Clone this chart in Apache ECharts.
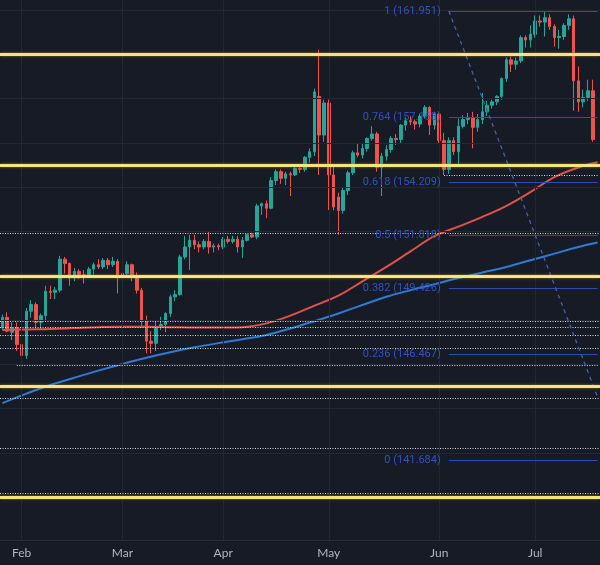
<!DOCTYPE html>
<html><head><meta charset="utf-8">
<script src="https://cdn.jsdelivr.net/npm/echarts@6/dist/echarts.min.js"></script>
<style>html,body{margin:0;padding:0;background:#171b26;}#c{width:600px;height:565px;}</style>
</head><body><div id="c"></div>
<script>
// ---- data (USD/JPY daily) ----
const opens = [147.65,148.12,147.45,147.65,146.90,146.40,148.40,148.70,147.90,148.20,149.30,149.25,149.35,150.75,150.55,149.90,150.20,150.05,150.00,150.30,150.50,150.40,150.70,150.50,150.65,149.95,150.10,150.50,150.00,149.35,147.95,147.05,146.95,147.70,147.80,148.30,149.05,149.15,150.85,151.30,151.60,151.40,151.30,151.55,151.30,151.35,151.30,151.65,151.55,151.65,151.30,151.60,151.85,151.75,153.15,153.25,153.05,154.30,154.70,154.40,154.60,154.55,154.85,154.80,155.35,155.60,158.10,156.35,157.80,154.55,153.55,152.95,153.85,154.65,155.55,155.45,155.75,156.20,156.40,154.90,155.40,155.70,156.20,156.15,156.80,157.00,156.95,156.85,157.20,157.60,156.80,157.30,156.10,154.80,156.10,155.60,156.75,157.05,157.15,156.70,157.05,157.40,157.70,157.85,158.10,158.90,159.75,159.55,159.70,160.75,160.65,160.90,161.50,161.45,161.65,161.25,160.75,160.80,161.30,161.60,158.80,157.85,158.05,158.35];
const highs = [148.25,148.35,147.90,147.90,147.05,148.55,148.90,148.80,148.30,149.55,149.55,149.50,150.90,150.85,150.60,150.35,150.30,150.25,150.40,150.60,150.75,150.80,150.80,150.85,150.75,150.60,150.65,150.55,150.15,149.45,148.20,147.50,147.95,148.15,148.35,149.15,149.35,150.95,151.80,151.85,151.85,151.55,151.65,151.97,151.45,151.45,151.75,151.80,151.80,151.80,151.75,151.90,151.95,153.25,153.30,153.40,154.45,154.80,154.80,154.70,154.70,154.90,154.90,155.40,155.75,158.45,160.20,157.95,157.95,155.00,153.75,154.00,154.75,155.65,155.95,155.95,156.25,156.75,156.50,155.55,155.90,156.30,156.40,156.85,157.15,157.20,157.05,157.30,157.70,157.65,157.40,157.40,156.45,156.25,156.25,157.10,157.25,157.35,157.40,157.30,158.25,157.90,157.95,158.15,158.95,159.85,159.90,159.85,160.85,160.85,161.30,161.75,161.75,161.951,161.80,161.35,161.10,161.40,161.80,161.75,159.45,158.40,158.85,158.85];
const lows = [147.55,147.45,147.10,146.60,145.90,146.25,148.10,147.65,147.60,147.95,148.95,148.95,149.25,150.10,149.55,149.75,149.85,149.65,149.90,150.05,150.30,150.30,150.30,150.40,149.20,149.75,150.00,149.75,149.20,147.65,146.50,146.50,146.60,147.55,147.45,148.15,148.85,149.10,150.75,150.26,151.20,151.05,151.20,151.00,151.05,151.15,151.20,151.45,151.45,151.05,150.80,151.55,151.70,151.65,152.75,152.60,153.00,154.10,154.15,154.10,153.60,154.50,154.65,154.70,155.10,155.40,154.55,156.05,152.97,152.95,151.86,152.80,153.65,154.55,155.35,155.30,155.60,156.10,154.70,153.60,155.20,155.55,155.90,156.00,156.55,156.80,156.60,156.70,157.10,156.35,156.60,155.95,154.55,154.60,155.45,155.00,156.65,156.85,155.75,156.50,156.85,157.20,157.55,157.70,157.95,158.75,159.20,159.30,159.60,160.30,160.30,160.75,161.25,160.80,161.10,160.35,160.25,160.65,161.10,157.45,157.40,157.60,157.90,156.05];
const closes = [148.12,147.50,147.65,146.90,146.40,148.40,148.70,147.90,148.20,149.30,149.25,149.35,150.75,150.55,149.90,150.20,150.05,150.00,150.30,150.50,150.40,150.70,150.50,150.65,149.95,150.10,150.50,150.00,149.35,147.95,147.05,146.95,147.70,147.80,148.30,149.05,149.15,150.85,151.30,151.60,151.40,151.30,151.55,151.30,151.35,151.30,151.65,151.55,151.65,151.30,151.60,151.85,151.75,153.15,153.25,153.05,154.30,154.70,154.40,154.60,154.55,154.85,154.80,155.35,155.60,158.30,156.35,157.80,154.55,153.10,152.95,153.85,154.65,155.55,155.45,155.75,156.20,156.40,154.90,155.40,155.70,156.20,156.15,156.80,157.00,156.95,156.85,157.20,157.60,156.80,157.30,156.10,154.80,156.10,155.60,156.75,157.05,157.15,156.70,157.05,157.40,157.70,157.85,158.10,158.90,159.75,159.55,159.70,160.75,160.65,160.90,161.50,161.45,161.65,161.25,160.75,160.80,161.30,161.60,158.80,157.85,158.05,158.35,156.15];

// moving averages read at every 5th bar
const maIndex = [0,5,10,15,20,25,30,35,40,45,50,55,60,65,70,75,80,85,90,95,100,105,110,115,120,124];
const maRed  = [147.55,147.58,147.60,147.64,147.68,147.70,147.70,147.68,147.66,147.66,147.68,147.85,148.20,148.65,149.10,149.75,150.40,151.10,151.79,152.22,152.66,153.16,153.78,154.45,154.89,155.12];
const maBlue = [144.25,144.68,145.07,145.40,145.72,146.02,146.30,146.55,146.77,146.96,147.13,147.33,147.62,147.95,148.30,148.68,149.05,149.35,149.62,149.90,150.15,150.40,150.70,151.00,151.30,151.50];

// drawn levels
const yellowLevels = [160, 155, 150, 145, 140];
const dottedLevels = [154.53, 151.93, 147.96, 147.69, 147.33, 146.74, 145.97, 144.48, 142.23, 140.20];
const dottedStart  = ['2024-06-04', null, null, null, null, null, '2024-01-31', null, null, null];
const fibRatios = ['1', '0.764', '0.618', '0.5', '0.382', '0.236', '0'];
const fibPrices = [161.951, 157.168, 154.209, 151.818, 149.426, 146.467, 141.684];
const fibStart = '2024-06-05';
const trendFrom = ['2024-06-05', 161.951];
const trendTo = ['2024-07-18', 144.53];
const gridLevels = [140,142,144,146,148,150,152,154,156,158,160,162];
const monthStarts = ['2024-02-01','2024-03-01','2024-04-01','2024-05-01','2024-06-03','2024-07-01'];
const monthLabels = ['Feb','Mar','Apr','May','Jun','Jul'];

// trading-day categories (weekdays)
const dates = [];
(function(){
  let t = Date.UTC(2024,0,26); const end = Date.UTC(2024,6,18);
  while (t <= end) { const d = new Date(t); const w = d.getUTCDay();
    if (w !== 0 && w !== 6) dates.push(d.toISOString().slice(0,10)); t += 86400000; }
})();
const lastCat = dates[dates.length-1];

const candles = dates.map((_, i) => i < opens.length ? [opens[i], closes[i], lows[i], highs[i]] : '-');
function maLine(vals){ const arr = dates.map(() => null); maIndex.forEach((ix, k) => { arr[ix] = vals[k]; }); return arr; }

const noLabel = {show:false};
const chart = echarts.init(document.getElementById('c'), null, {renderer:'canvas'});
chart.setOption({
  animation: false,
  backgroundColor: '#171b26',
  grid: {left: -2.4, top: 0, width: 607.6, height: 540},
  xAxis: {
    type: 'category', data: dates, boundaryGap: true,
    axisLine: {show: true, lineStyle: {color: '#2a2e39', width: 1}},
    axisTick: {show: false}, splitLine: {show: false},
    axisLabel: {
      interval: (i, v) => monthStarts.indexOf(v) >= 0,
      formatter: v => { const k = monthStarts.indexOf(v); return k >= 0 ? monthLabels[k] : ''; },
      color: '#b2b5be', fontSize: 12, fontFamily: 'Lato, sans-serif', margin: 7
    }
  },
  yAxis: {type: 'value', min: 138.073, max: 162.448, show: false, splitLine: {show: false}},
  series: [
    { type: 'line', name: 'grid', data: [], z: 0, silent: true,
      markLine: { silent: true, symbol: ['none','none'], label: noLabel, animation: false,
        lineStyle: {color: '#232734', width: 1, type: 'solid'},
        emphasis: {disabled: true},
        data: gridLevels.map(v => ({yAxis: v})).concat(monthStarts.map(d => ({xAxis: d}))) } },
    { type: 'candlestick', name: 'USDJPY', data: candles, z: 2, barWidth: 3,
      itemStyle: {color: '#26a69a', color0: '#ef5350', borderColor: '#26a69a', borderColor0: '#ef5350', borderWidth: 1} },
    { type: 'line', name: 'MA red', data: maLine(maRed), connectNulls: true, smooth: 0.4, showSymbol: false, z: 3,
      lineStyle: {color: '#e0524a', width: 2} },
    { type: 'line', name: 'MA blue', data: maLine(maBlue), connectNulls: true, smooth: 0.4, showSymbol: false, z: 3,
      lineStyle: {color: '#2f7bd6', width: 2} },
    { type: 'line', name: 'dotted', data: [], z: 5, silent: true,
      markLine: { silent: true, symbol: ['none','none'], label: noLabel, emphasis: {disabled: true},
        lineStyle: {color: 'rgba(226,228,235,0.95)', width: 1, type: [1, 1.5]},
        data: dottedLevels.map((v, k) => dottedStart[k] ? [{coord: [dottedStart[k], v]}, {coord: [lastCat, v]}] : {yAxis: v}) } },
    { type: 'line', name: 'fib', data: [], z: 6, silent: true,
      markLine: { silent: true, symbol: ['none','none'], emphasis: {disabled: true},
        lineStyle: {color: '#2d4bb0', width: 1, type: 'solid'},
        label: {show: true, position: 'start', distance: 8, color: '#3152c0', fontSize: 11, fontFamily: 'Roboto, sans-serif'},
        data: fibPrices.map((p, k) => [
          {coord: [fibStart, p], label: {formatter: fibRatios[k] + ' (' + p.toFixed(3) + ')'}},
          {coord: [lastCat, p]}]) } },
    { type: 'line', name: 'trend', data: [], z: 6, silent: true,
      markLine: { silent: true, symbol: ['none','none'], label: noLabel, emphasis: {disabled: true},
        lineStyle: {color: '#4a5ea6', width: 1.3, type: [4, 4]},
        data: [[{coord: trendFrom}, {coord: trendTo}]] } },
    { type: 'line', name: 'levels', data: [], z: 7, silent: true,
      markLine: { silent: true, symbol: ['none','none'], label: noLabel, emphasis: {disabled: true},
        lineStyle: {color: '#f6e47e', width: 2.8, type: 'solid', shadowColor: 'rgba(190,150,30,0.7)', shadowBlur: 3},
        data: yellowLevels.map(v => ({yAxis: v})) } }
  ]
});
</script></body></html>
